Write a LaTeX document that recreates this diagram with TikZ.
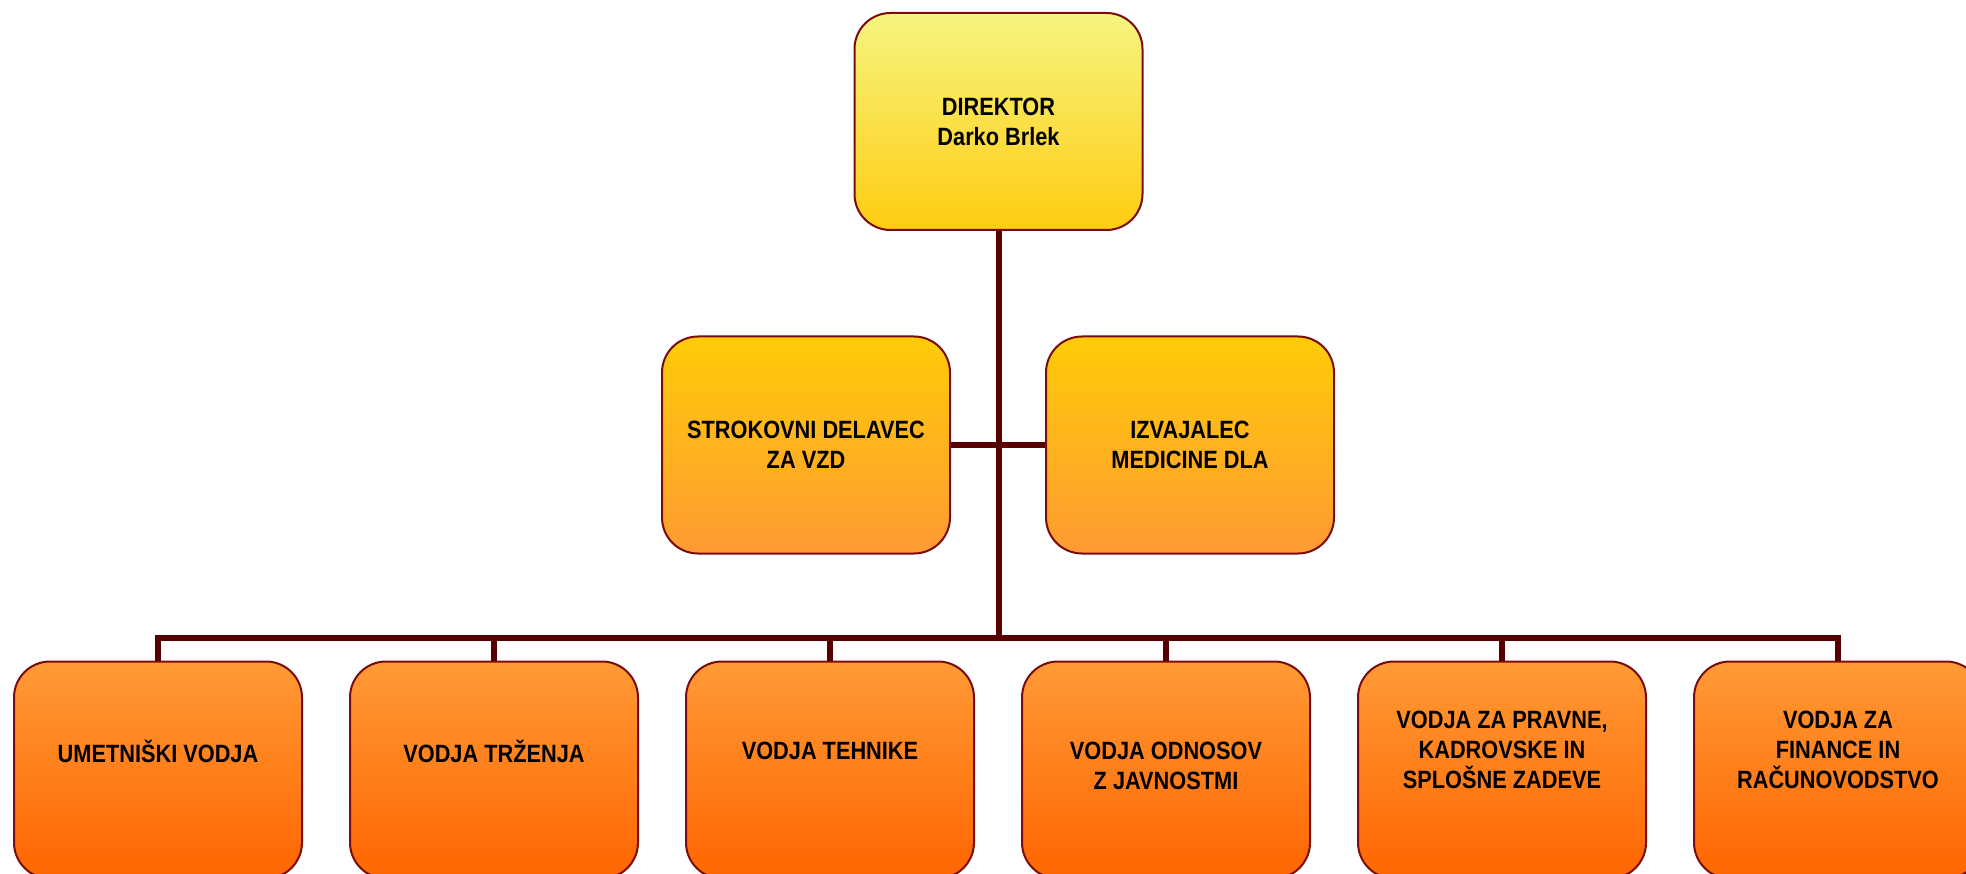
\documentclass[tikz,border=0pt]{standalone}
\usepackage{fontspec}
\setmainfont[FakeStretch=0.87]{Liberation Sans}
\begin{document}
\begin{tikzpicture}[x=1pt,y=-1pt,
  box/.style={draw=boxedge, line width=2pt, rounded corners=36pt, minimum width=288pt, minimum height=217pt, inner sep=0pt, align=center, font=\fontsize{25}{30}\selectfont\bfseries},
  dirbox/.style={box, top color=dirtop, bottom color=dirbot},
  midbox/.style={box, top color=midtop, bottom color=midbot},
  lowbox/.style={box, top color=lowtop, bottom color=lowbot},
  lowtext/.style={align=center, inner sep=0pt, font=\fontsize{25}{30}\selectfont\bfseries},
  conn/.style={draw=connc, line width=6pt, line join=miter}]
\definecolor{boxedge}{HTML}{7A0C0C}
\definecolor{connc}{HTML}{5A0000}
\definecolor{dirtop}{HTML}{F6F580}
\definecolor{dirbot}{HTML}{FFCC11}
\definecolor{midtop}{HTML}{FFCC08}
\definecolor{midbot}{HTML}{FF9A33}
\definecolor{lowtop}{HTML}{FF9A36}
\definecolor{lowbot}{HTML}{FF6500}
\useasboundingbox (0,0) rectangle (1966,874);
% connectors
\coordinate (bus) at (0,638);
\node[dirbox] (dir) at (998.5,121.5) {DIREKTOR\\Darko Brlek};
\node[midbox] (m1) at (806,445) {STROKOVNI DELAVEC\\ZA VZD};
\node[midbox] (m2) at (1190,445) {IZVAJALEC\\MEDICINE DLA};
\node[lowbox] (b1) at (158,770) {};
\node[lowbox] (b2) at (494,770) {};
\node[lowbox] (b3) at (830,770) {};
\node[lowbox] (b4) at (1166,770) {};
\node[lowbox] (b5) at (1502,770) {};
\node[lowbox] (b6) at (1838,770) {};
\node[lowtext] (t1) at (158,751) {UMETNIŠKI VODJA};
\node[lowtext] (t2) at (494,751) {VODJA TRŽENJA};
\node[lowtext] (t3) at (830,751) {VODJA TEHNIKE};
\node[lowtext] (t4) at (1166,766) {VODJA ODNOSOV\\Z JAVNOSTMI};
\node[lowtext] (t5) at (1502,750) {VODJA ZA PRAVNE,\\KADROVSKE IN\\SPLOŠNE ZADEVE};
\node[lowtext] (t6) at (1838,750) {VODJA ZA\\FINANCE IN\\RAČUNOVODSTVO};
\draw[conn] (dir.south) -- (dir.south |- bus);
\draw[conn] (m1.east) -- (m2.west);
\draw[conn] (b1.north) -- (b1.north |- bus) -- (b6.north |- bus) -- (b6.north);
\foreach \b in {b2,b3,b4,b5} \draw[conn] (\b.north) -- (\b.north |- bus);
\end{tikzpicture}
\end{document}
